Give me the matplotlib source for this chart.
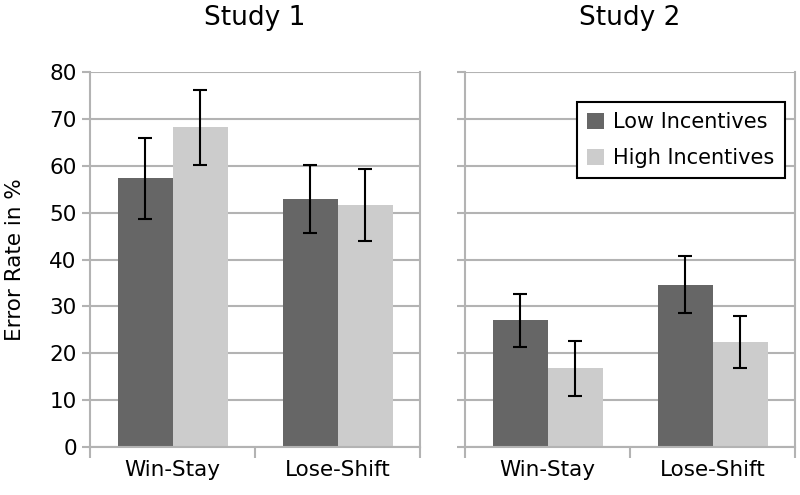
import matplotlib.pyplot as plt
import numpy as np

studies = ["Study 1", "Study 2"]
conditions = ["Win-Stay", "Lose-Shift"]
groups = ["Low Incentives", "High Incentives"]

# error rate in % per study: [Win-Stay, Lose-Shift]
low_means = [[57.3, 52.9], [27.0, 34.6]]
low_err = [[8.7, 7.3], [5.7, 6.1]]
high_means = [[68.2, 51.7], [16.8, 22.4]]
high_err = [[8.0, 7.7], [5.9, 5.5]]

dark = "#666666"
light = "#cccccc"
grid_col = "#b3b3b3"

plt.rcParams['font.family'] = ['DejaVu Sans']
fig = plt.figure(figsize=(8, 4.95), dpi=100)

lefts = [90 / 800, 465 / 800]
axes = []
for i, study in enumerate(studies):
    ax = fig.add_axes([lefts[i], 48 / 495, 330 / 800, 375 / 495])
    axes.append(ax)
    x = np.arange(len(conditions)) + 0.5
    w = 1 / 3
    ax.bar(x - w / 2, low_means[i], w, color=dark, label=groups[0], zorder=2)
    ax.bar(x + w / 2, high_means[i], w, color=light, label=groups[1], zorder=2)
    ax.errorbar(x - w / 2, low_means[i], yerr=low_err[i], fmt='none',
                ecolor='black', elinewidth=1.5, capsize=5, capthick=1.5, zorder=3)
    ax.errorbar(x + w / 2, high_means[i], yerr=high_err[i], fmt='none',
                ecolor='black', elinewidth=1.5, capsize=5, capthick=1.5, zorder=3)

    ax.set_xlim(0, 2)
    ax.set_ylim(0, 80)
    ax.set_yticks(range(0, 81, 10))
    ax.yaxis.grid(True, color=grid_col, linewidth=1.5, zorder=0)
    ax.set_axisbelow(True)

    # category separators as x ticks, labels in the middle
    ax.set_xticks([0, 1, 2])
    ax.set_xticklabels([])
    ax.set_xticks(x, minor=True)
    ax.set_xticklabels(conditions, minor=True, fontsize=15.5)
    ax.tick_params(axis='x', which='major', length=8, width=1.5, color=grid_col)
    ax.tick_params(axis='x', which='minor', length=0, pad=9)
    ax.tick_params(axis='y', length=6, width=1.5, color=grid_col, labelsize=15.5)

    for side in ['left', 'right', 'bottom']:
        ax.spines[side].set_color(grid_col)
        ax.spines[side].set_linewidth(1.5)
    ax.spines['top'].set_visible(False)

    ax.set_title(study, fontsize=19, pad=34)

axes[0].set_ylabel("Error Rate in %", fontsize=15.5)
axes[0].yaxis.set_label_coords(-0.197, 0.5)
axes[1].set_yticklabels([])

leg = axes[1].legend(loc='upper right', bbox_to_anchor=(0.97, 0.92), fontsize=15,
                     fancybox=False, framealpha=1, edgecolor='black',
                     handlelength=0.8, handleheight=0.8, handletextpad=0.45,
                     borderpad=0.5, labelspacing=0.75, borderaxespad=0)
leg.get_frame().set_linewidth(1.5)

fig.savefig("out.png", dpi=100)
